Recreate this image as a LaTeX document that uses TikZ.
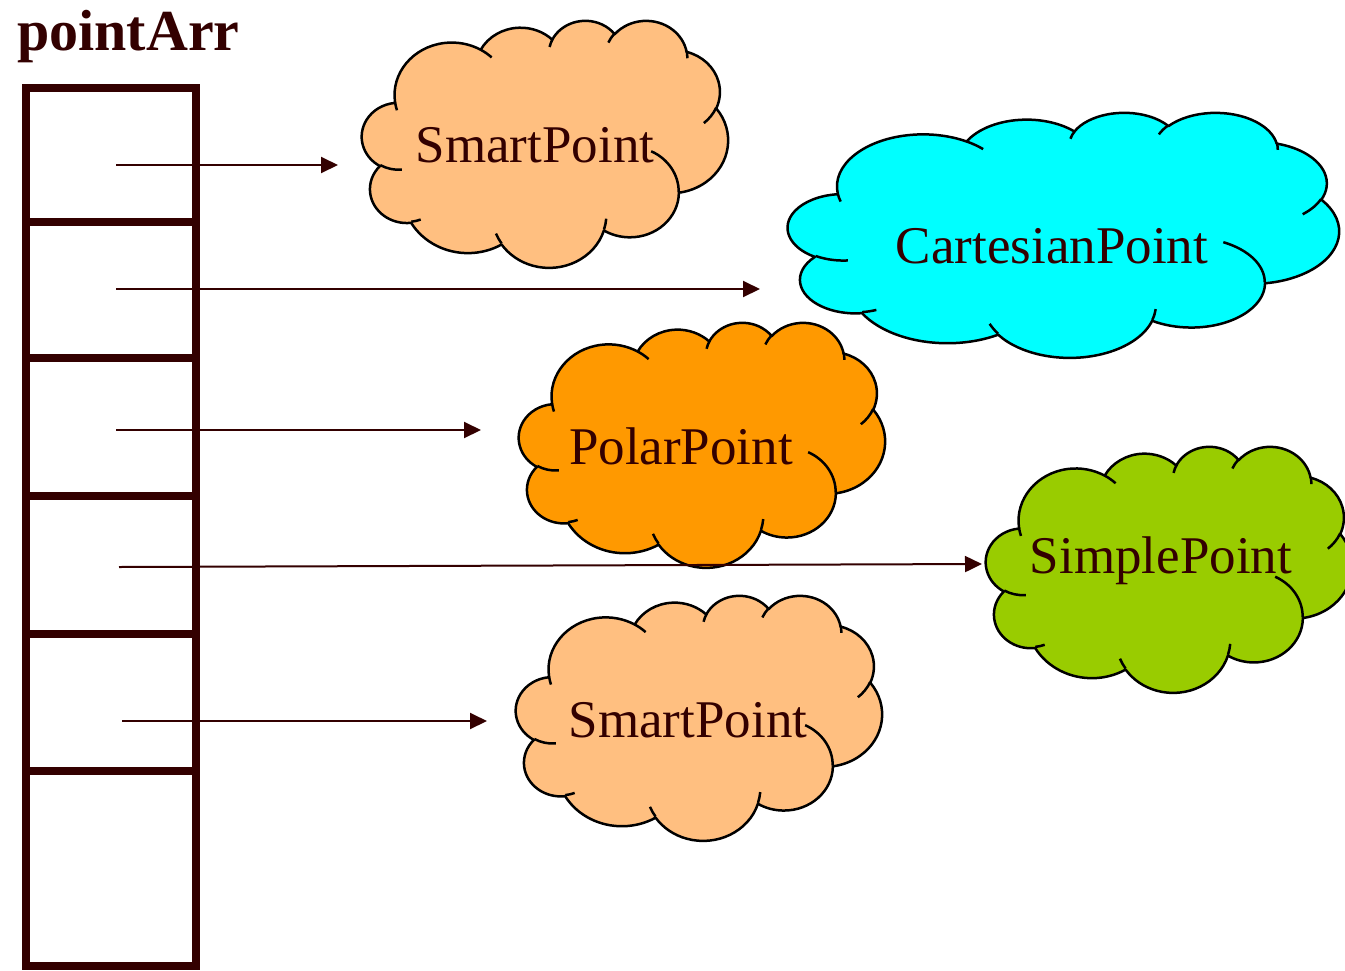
\documentclass[tikz,border=0pt]{standalone}
\usepackage{fontspec}
\setmainfont{Liberation Serif}
\usetikzlibrary{arrows.meta}
\definecolor{brn}{HTML}{330000}
\definecolor{peach}{HTML}{FFBF80}
\definecolor{cyanc}{HTML}{00FFFF}
\definecolor{orangec}{HTML}{FF9900}
\definecolor{greenc}{HTML}{99CC00}
\tikzset{
  carc/.style n args={4}{insert path={arc[start angle={atan2(#1/10000*sin(#3),#2/10000*cos(#3))},
      delta angle={mod(atan2(#1/10000*sin(#3+#4),#2/10000*cos(#3+#4))-atan2(#1/10000*sin(#3),#2/10000*cos(#3))+720,360)},
      x radius={#1/10000/4.32}, y radius={#2/10000/4.32}]}},
  cloudline/.style={line width=2.5pt, draw=black, line join=round},
  lbl/.style={text=brn, inner sep=0pt, anchor=base, font=\fontsize{53pt}{60pt}\selectfont},
  cellbox/.style={draw=brn, line width=8pt, minimum width=170pt, inner sep=0pt, outer sep=0pt},
  arr/.style={draw=brn, line width=2pt, -{Triangle[length=17pt,width=16pt]}}
}
\newcommand\drawcloud[5]{%
  \begin{scope}[shift={(#1pt,-#2pt)}, x={(#3pt,0pt)}, y={(0pt,-#4pt)}]
    \filldraw[cloudline, fill=#5] (0.09028,0.33264)
      [carc={6753}{9190}{-190.4875}{123.7805}]
      [carc={5333}{7267}{-144.1024}{89.9452}]
      [carc={4365}{5945}{-145.8079}{99.7230}]
      [carc={4857}{6595}{-130.9861}{117.2417}]
      [carc={5333}{7273}{-78.7089}{109.0269}]
      [carc={6775}{9220}{-46.2673}{130.2690}]
      [carc={5785}{7867}{0.6250}{114.0333}]
      [carc={6752}{9215}{22.4516}{115.1726}]
      [carc={7720}{10543}{66.2426}{75.7110}]
      [carc={4360}{5918}{-274.9421}{146.7356}]
      [carc={4345}{5945}{-246.8285}{152.5189}] -- cycle;
    \draw[cloudline]
      (0.10863,0.60595) [carc={4345}{5945}{86.7420}{26.4295}]
      (0.16037,0.80785) [carc={4360}{5918}{73.6105}{11.4475}]
      (0.38144,0.90486) [carc={6752}{9215}{137.6242}{14.0811}]
      (0.66729,0.80442) [carc={6752}{9215}{6.4533}{15.9984}]
      (0.79002,0.53134) [carc={5785}{7867}{-70.2924}{70.9174}]
      (0.96755,0.35542) [carc={5333}{7273}{30.3180}{27.7515}]
      (0.88713,0.12560) [carc={4857}{6595}{-13.7443}{14.8589}]
      (0.67310,0.09148) [carc={4857}{6595}{-149.1815}{18.1954}]
      (0.51252,0.10926) [carc={4365}{5945}{-163.4943}{17.6864}]
      (0.32407,0.12019) [carc={6753}{9190}{-66.7070}{12.3194}]
      (0.09553,0.36549) [carc={6753}{9190}{157.6544}{11.8582}];
  \end{scope}}
\begin{document}
\begin{tikzpicture}[x=1pt, y=-1pt]
  \useasboundingbox (0,0) rectangle (1345,970);
  % title
  \node[text=brn, inner sep=0pt, anchor=base west, font=\bfseries\fontsize{58pt}{64pt}\selectfont] (title) at (17,50) {pointArr};
  % clouds
  \drawcloud{362}{20}{366}{247}{peach}
  \drawcloud{788}{112}{551}{245}{cyanc}
  \drawcloud{519}{322}{366}{245}{orangec}
  \drawcloud{986}{446}{366}{246}{greenc}
  \drawcloud{516}{595}{366}{245}{peach}
  \node[lbl] (sp1) at (535,162) {SmartPoint};
  \node[lbl] (cart) at (1052,263) {CartesianPoint};
  \node[lbl] (polar) at (681,464) {PolarPoint};
  \node[lbl] (simple) at (1161,573) {SimplePoint};
  \node[lbl] (sp2) at (688,737) {SmartPoint};
  % array cells
  \node[cellbox, minimum height=134pt] (c1) at (111,155) {};
  \node[cellbox, minimum height=136pt] (c2) at (111,290) {};
  \node[cellbox, minimum height=138pt] (c3) at (111,427) {};
  \node[cellbox, minimum height=138pt] (c4) at (111,565) {};
  \node[cellbox, minimum height=137pt] (c5) at (111,702.5) {};
  \node[cellbox, minimum height=195pt] (c6) at (111,868.5) {};
  % arrows
  \coordinate (s1) at (116,165);   \coordinate (t1) at (338,165);
  \coordinate (s2) at (116,289);   \coordinate (t2) at (760,289);
  \coordinate (s3) at (116,430);   \coordinate (t3) at (481,430);
  \coordinate (s4) at (119,567);   \coordinate (t4) at (982,564);
  \coordinate (s5) at (122,721);   \coordinate (t5) at (487,721);
  \draw[arr] (s1) -- (t1);
  \draw[arr] (s2) -- (t2);
  \draw[arr] (s3) -- (t3);
  \draw[arr] (s4) -- (t4);
  \draw[arr] (s5) -- (t5);
\end{tikzpicture}
\end{document}
